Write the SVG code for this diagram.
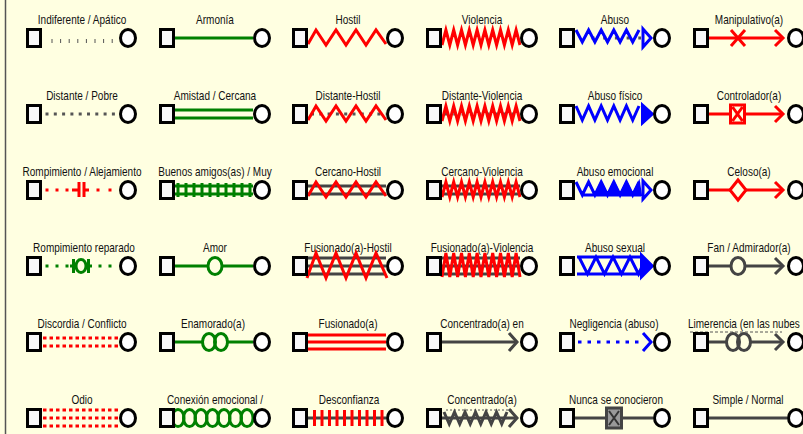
<svg xmlns="http://www.w3.org/2000/svg" xmlns:xlink="http://www.w3.org/1999/xlink" width="803" height="434" viewBox="0 0 803 434">
<style>
text{font-family:"Liberation Sans",Arial,sans-serif;font-size:13px;fill:#111;text-anchor:middle}
.sq{fill:#f8f8f8;stroke:#000;stroke-width:3}
.ci{fill:#fff;stroke:#000;stroke-width:3}
.g{stroke:#008000;stroke-width:3;fill:none}
.r{stroke:#f00;stroke-width:3;fill:none}
.b{stroke:#00f;stroke-width:3;fill:none}
.k{stroke:#444;stroke-width:3;fill:none}
.bg{fill:#ffffe1}
.fb{fill:#00f;stroke:#00f;stroke-width:2}
</style>
<defs>
<rect id="sq" class="sq" x="1.5" y="-8.5" width="13" height="17"/>
<ellipse id="ci" class="ci" rx="7.5" ry="8.5"/>
</defs>
<rect width="803" height="434" fill="#ffffe1"/>
<line x1="5.5" y1="0" x2="5.5" y2="434" stroke="#555" stroke-width="1.5"/>

<g id="labels">
<text transform="translate(82,24) scale(0.77,1)">Indiferente / Apático</text>
<text transform="translate(215,24) scale(0.77,1)">Armonía</text>
<text transform="translate(348,24) scale(0.77,1)">Hostil</text>
<text transform="translate(482,24) scale(0.77,1)">Violencia</text>
<text transform="translate(615,24) scale(0.77,1)">Abuso</text>
<text transform="translate(749,24) scale(0.77,1)">Manipulativo(a)</text>

<text transform="translate(82,100) scale(0.77,1)">Distante / Pobre</text>
<text transform="translate(215,100) scale(0.77,1)">Amistad / Cercana</text>
<text transform="translate(348,100) scale(0.77,1)">Distante-Hostil</text>
<text transform="translate(482,100) scale(0.77,1)">Distante-Violencia</text>
<text transform="translate(615,100) scale(0.77,1)">Abuso físico</text>
<text transform="translate(749,100) scale(0.77,1)">Controlador(a)</text>

<text transform="translate(82,176) scale(0.77,1)">Rompimiento / Alejamiento</text>
<text transform="translate(215,176) scale(0.77,1)">Buenos amigos(as) / Muy</text>
<text transform="translate(348,176) scale(0.77,1)">Cercano-Hostil</text>
<text transform="translate(482,176) scale(0.77,1)">Cercano-Violencia</text>
<text transform="translate(615,176) scale(0.77,1)">Abuso emocional</text>
<text transform="translate(749,176) scale(0.77,1)">Celoso(a)</text>

<text transform="translate(84,252) scale(0.77,1)">Rompimiento reparado</text>
<text transform="translate(215,252) scale(0.77,1)">Amor</text>
<text transform="translate(348,252) scale(0.77,1)">Fusionado(a)-Hostil</text>
<text transform="translate(482,252) scale(0.77,1)">Fusionado(a)-Violencia</text>
<text transform="translate(615,252) scale(0.77,1)">Abuso sexual</text>
<text transform="translate(749,252) scale(0.77,1)">Fan / Admirador(a)</text>

<text transform="translate(82,328) scale(0.77,1)">Discordia / Conflicto</text>
<text transform="translate(213,328) scale(0.77,1)">Enamorado(a)</text>
<text transform="translate(348,328) scale(0.77,1)">Fusionado(a)</text>
<text transform="translate(482,328) scale(0.77,1)">Concentrado(a) en</text>
<text transform="translate(614,328) scale(0.77,1)">Negligencia (abuso)</text>
<text transform="translate(688,328) scale(0.77,1)" style="text-anchor:start">Limerencia (en las nubes</text>

<text transform="translate(82,404) scale(0.77,1)">Odio</text>
<text transform="translate(215,404) scale(0.77,1)">Conexión emocional /</text>
<text transform="translate(349,404) scale(0.77,1)">Desconfianza</text>
<text transform="translate(482,404) scale(0.77,1)">Concentrado(a)</text>
<text transform="translate(616,404) scale(0.77,1)">Nunca se conocieron</text>
<text transform="translate(748,404) scale(0.77,1)">Simple / Normal</text>
</g>

<g id="connectors">
<!-- column 1 -->
<line x1="51.5" y1="41" x2="113" y2="41" stroke="#555" stroke-width="4" stroke-dasharray="1 7.6"/>
<line x1="45.5" y1="114" x2="120" y2="114" stroke="#555" stroke-width="3" stroke-dasharray="3 5.3"/>
<path class="r" d="M45.5,190h3 M55.5,190h3 M65.5,190h3 M72,190h6 M84,190h5 M96.5,190h3 M108.5,190h3"/>
<path class="r" stroke-width="2.5" d="M79,182v15 M84,182v15"/>
<path class="g" d="M45.5,266h3 M55.5,266h3 M65.5,266h3 M70,266h4 M88,266h4 M98.5,266h3 M108.5,266h3"/>
<path class="g" stroke-width="2.5" d="M73.5,259v14 M88.5,259v14"/>
<ellipse class="g bg" cx="81" cy="266" rx="5" ry="6.5"/>
<path class="r" stroke-width="3.5" stroke-dasharray="3.5 3" d="M43,338H120 M43,346H120"/>
<path class="r" stroke-width="3.5" stroke-dasharray="3.5 3" d="M43,410H120 M43,418H120 M43,426H120"/>

<!-- column 2 -->
<line class="g" x1="175" y1="38" x2="253" y2="38"/>
<path class="g" d="M175,110H253 M175,118H253"/>
<path class="g" d="M175,186H253 M175,194H253"/>
<path class="g" stroke-width="2.5" d="M178,183v14 M186,183v14 M194,183v14 M202,183v14 M210,183v14 M218,183v14 M226,183v14 M234,183v14 M242,183v14 M250,183v14"/>
<line class="g" x1="175" y1="266" x2="253" y2="266"/>
<ellipse class="g bg" cx="215" cy="266" rx="7" ry="8.5"/>
<path class="g" d="M175,342H202.5 M227.5,342H253"/>
<ellipse class="g" cx="209" cy="342" rx="6.5" ry="8.5"/>
<ellipse class="g" cx="221" cy="342" rx="6.5" ry="8.5"/>
<g class="g">
<ellipse cx="178" cy="418" rx="6" ry="8.5"/>
<ellipse cx="189.5" cy="418" rx="6" ry="8.5"/>
<ellipse cx="201" cy="418" rx="6" ry="8.5"/>
<ellipse cx="212.5" cy="418" rx="6" ry="8.5"/>
<ellipse cx="224" cy="418" rx="6" ry="8.5"/>
<ellipse cx="235.5" cy="418" rx="6" ry="8.5"/>
<ellipse cx="247" cy="418" rx="6" ry="8.5"/>
</g>

<!-- column 3 -->
<path class="r" d="M308,44 L316,30 L326,45 L336,30 L346,45 L356,30 L366,45 L376,30 L386,44"/>
<line x1="311" y1="114" x2="386" y2="114" stroke="#555" stroke-width="3" stroke-dasharray="3 5.3"/>
<path class="r" d="M308,120 L316,106 L326,121 L336,106 L346,121 L356,106 L366,121 L376,106 L386,120"/>
<path class="k" d="M308,186H386 M308,194H386"/>
<path class="r" d="M308,196 L316,182 L326,197 L336,182 L346,197 L356,182 L366,197 L376,182 L386,196"/>
<path class="k" d="M308,258H386 M308,266H386 M308,274H386"/>
<path class="r" d="M307,278 L316,253 L326,278 L336,253 L346,278 L356,253 L366,278 L376,253 L387,278"/>
<path class="r" d="M308,335H386 M308,342H386 M308,349H386"/>
<line class="k" x1="308" y1="418" x2="386" y2="418"/>
<path class="r" stroke-width="2.5" d="M314.5,410v16 M322,410v16 M329.5,410v16 M337,410v16 M344.5,410v16 M352,410v16 M359.5,410v16 M367,410v16 M374.5,410v16 M382,410v16"/>

<!-- column 4 -->
<path class="r" stroke-width="2.5" d="M442,45 l3.9,-15 3.9,15 3.9,-15 3.9,15 3.9,-15 3.9,15 3.9,-15 3.9,15 3.9,-15 3.9,15 3.9,-15 3.9,15 3.9,-15 3.9,15 3.9,-15 3.9,15 3.9,-15 3.9,15 3.9,-15 3.9,15"/>
<line x1="445" y1="114" x2="520" y2="114" stroke="#555" stroke-width="3" stroke-dasharray="3 5.3"/>
<path class="r" stroke-width="2.5" d="M442,121 l3.9,-15 3.9,15 3.9,-15 3.9,15 3.9,-15 3.9,15 3.9,-15 3.9,15 3.9,-15 3.9,15 3.9,-15 3.9,15 3.9,-15 3.9,15 3.9,-15 3.9,15 3.9,-15 3.9,15 3.9,-15 3.9,15"/>
<path class="k" d="M442,186H520 M442,194H520"/>
<path class="r" stroke-width="2.5" d="M442,197 l3.9,-15 3.9,15 3.9,-15 3.9,15 3.9,-15 3.9,15 3.9,-15 3.9,15 3.9,-15 3.9,15 3.9,-15 3.9,15 3.9,-15 3.9,15 3.9,-15 3.9,15 3.9,-15 3.9,15 3.9,-15 3.9,15"/>
<path class="k" d="M442,258H520 M442,266H520 M442,274H520"/>
<path class="r" stroke-width="2.5" d="M442,277 l3.9,-24 3.9,24 3.9,-24 3.9,24 3.9,-24 3.9,24 3.9,-24 3.9,24 3.9,-24 3.9,24 3.9,-24 3.9,24 3.9,-24 3.9,24 3.9,-24 3.9,24 3.9,-24 3.9,24 3.9,-24 3.9,24"/>
<line class="k" x1="442" y1="342" x2="515" y2="342"/>
<path class="k" d="M509,333 L517,342 L509,351"/>
<line x1="446" y1="410" x2="514" y2="410" stroke="#555" stroke-width="1" stroke-dasharray="2 2"/>
<line class="k" x1="442" y1="418" x2="515" y2="418" stroke-width="2.5"/>
<path class="k" stroke="#555" stroke-width="2.5" d="M444,412 l5.25,12 5.25,-12 5.25,12 5.25,-12 5.25,12 5.25,-12 5.25,12 5.25,-12 5.25,12 5.25,-12 5.25,12 5.25,-12"/>
<path class="k" d="M509,409 L517,418 L509,427"/>

<!-- column 5 -->
<line x1="591.5" y1="38" x2="641" y2="38" stroke="#555" stroke-width="3" stroke-dasharray="3 8.7"/>
<path class="b" d="M576,30 l6.3,12 6.3,-12 6.3,12 6.3,-12 6.3,12 6.3,-12 6.3,12 6.3,-12 6.3,12 6.3,-12"/>
<path class="b bg" d="M643,29 L651,38 L643,47 Z"/>
<path class="b" d="M576,106 l6.3,14 6.3,-14 6.3,14 6.3,-14 6.3,14 6.3,-14 6.3,14 6.3,-14 6.3,14 6.3,-14"/>
<path class="fb" d="M642,104 L653,114 L642,124 Z"/>
<path class="b" d="M576,182 L582.3,195 L588.6,182 L594.9,195 L601.2,182 L607.5,195 L613.8,182 L620.1,195 L626.4,182 L632.7,195 L639,182 M582.3,195H641"/>
<path class="fb" d="M594.9,195 L601.2,182 L607.5,195 Z M607.5,195 L613.8,182 L620.1,195 Z M620.1,195 L626.4,182 L632.7,195 Z M632.7,195 L639,182 L641,195 Z"/>
<path class="b bg" d="M643,181 L651,190 L643,199 Z"/>
<path class="b" stroke-width="3.5" d="M577,257H642 M577,274H642 M579,257 L587.5,274 L596,257 L604.5,274 L613,257 L621.5,274 L630,257 L638.5,274 L644,262"/>
<path class="fb" d="M641,254 L653,266 L641,278 Z"/>
<line class="b" x1="578" y1="342" x2="640" y2="342" stroke-width="3.5" stroke-dasharray="3.5 6"/>
<path class="b" d="M643,333 L651,342 L643,351"/>
<line class="k" x1="575" y1="418" x2="653" y2="418"/>
<rect x="606.5" y="408" width="15" height="20" fill="#999" stroke="#444" stroke-width="3"/>
<path d="M609,411 L619,425 M619,411 L609,425" stroke="#333" stroke-width="2" fill="none"/>

<!-- column 6 -->
<line class="r" x1="709" y1="38" x2="783" y2="38"/>
<path class="r" d="M731,30 L745,46 M745,30 L731,46"/>
<path class="r" d="M775,30 L783,38 L775,46"/>
<line class="r" x1="709" y1="114" x2="783" y2="114"/>
<rect class="r bg" x="730.5" y="105" width="14" height="18"/>
<path class="r" stroke-width="2.5" d="M732.5,107 L742.5,121 M742.5,107 L732.5,121"/>
<path class="r" d="M775,106 L783,114 L775,122"/>
<line class="r" x1="709" y1="190" x2="783" y2="190"/>
<path class="r bg" d="M730,190 L738,180 L746,190 L738,200 Z"/>
<path class="r" d="M775,182 L783,190 L775,198"/>
<line class="k" x1="709" y1="266" x2="783" y2="266"/>
<ellipse class="k bg" cx="738" cy="266" rx="7" ry="8.5"/>
<path class="k" d="M775,258 L783,266 L775,274"/>
<line x1="690" y1="332" x2="782" y2="332" stroke="#555" stroke-width="1" stroke-dasharray="3 2"/>
<path class="k" d="M709,342H726.5 M750.5,342H783"/>
<ellipse class="k" cx="733" cy="342" rx="6.5" ry="8.5"/>
<ellipse class="k" cx="744" cy="342" rx="6.5" ry="8.5"/>
<path class="k" d="M775,334 L783,342 L775,350"/>
<line class="k" x1="709" y1="418" x2="787" y2="418"/>
</g>

<g id="nodes">
<g id="sq-r1c1"><use href="#sq" x="26" y="38"/></g><g id="ci-r1c1"><use href="#ci" x="128" y="38"/></g>
<g id="sq-r1c2"><use href="#sq" x="159" y="38"/></g><g id="ci-r1c2"><use href="#ci" x="262" y="38"/></g>
<g id="sq-r1c3"><use href="#sq" x="292" y="38"/></g><g id="ci-r1c3"><use href="#ci" x="395" y="38"/></g>
<g id="sq-r1c4"><use href="#sq" x="426" y="38"/></g><g id="ci-r1c4"><use href="#ci" x="529" y="38"/></g>
<g id="sq-r1c5"><use href="#sq" x="559" y="38"/></g><g id="ci-r1c5"><use href="#ci" x="662" y="38"/></g>
<g id="sq-r1c6"><use href="#sq" x="693" y="38"/></g><g id="ci-r1c6"><use href="#ci" x="796" y="38"/></g>

<g id="sq-r2c1"><use href="#sq" x="26" y="114"/></g><g id="ci-r2c1"><use href="#ci" x="128" y="114"/></g>
<g id="sq-r2c2"><use href="#sq" x="159" y="114"/></g><g id="ci-r2c2"><use href="#ci" x="262" y="114"/></g>
<g id="sq-r2c3"><use href="#sq" x="292" y="114"/></g><g id="ci-r2c3"><use href="#ci" x="395" y="114"/></g>
<g id="sq-r2c4"><use href="#sq" x="426" y="114"/></g><g id="ci-r2c4"><use href="#ci" x="529" y="114"/></g>
<g id="sq-r2c5"><use href="#sq" x="559" y="114"/></g><g id="ci-r2c5"><use href="#ci" x="662" y="114"/></g>
<g id="sq-r2c6"><use href="#sq" x="693" y="114"/></g><g id="ci-r2c6"><use href="#ci" x="796" y="114"/></g>

<g id="sq-r3c1"><use href="#sq" x="26" y="190"/></g><g id="ci-r3c1"><use href="#ci" x="128" y="190"/></g>
<g id="sq-r3c2"><use href="#sq" x="159" y="190"/></g><g id="ci-r3c2"><use href="#ci" x="262" y="190"/></g>
<g id="sq-r3c3"><use href="#sq" x="292" y="190"/></g><g id="ci-r3c3"><use href="#ci" x="395" y="190"/></g>
<g id="sq-r3c4"><use href="#sq" x="426" y="190"/></g><g id="ci-r3c4"><use href="#ci" x="529" y="190"/></g>
<g id="sq-r3c5"><use href="#sq" x="559" y="190"/></g><g id="ci-r3c5"><use href="#ci" x="662" y="190"/></g>
<g id="sq-r3c6"><use href="#sq" x="693" y="190"/></g><g id="ci-r3c6"><use href="#ci" x="796" y="190"/></g>

<g id="sq-r4c1"><use href="#sq" x="26" y="266"/></g><g id="ci-r4c1"><use href="#ci" x="128" y="266"/></g>
<g id="sq-r4c2"><use href="#sq" x="159" y="266"/></g><g id="ci-r4c2"><use href="#ci" x="262" y="266"/></g>
<g id="sq-r4c3"><use href="#sq" x="292" y="266"/></g><g id="ci-r4c3"><use href="#ci" x="395" y="266"/></g>
<g id="sq-r4c4"><use href="#sq" x="426" y="266"/></g><g id="ci-r4c4"><use href="#ci" x="529" y="266"/></g>
<g id="sq-r4c5"><use href="#sq" x="559" y="266"/></g><g id="ci-r4c5"><use href="#ci" x="662" y="266"/></g>
<g id="sq-r4c6"><use href="#sq" x="693" y="266"/></g><g id="ci-r4c6"><use href="#ci" x="796" y="266"/></g>

<g id="sq-r5c1"><use href="#sq" x="26" y="342"/></g><g id="ci-r5c1"><use href="#ci" x="128" y="342"/></g>
<g id="sq-r5c2"><use href="#sq" x="159" y="342"/></g><g id="ci-r5c2"><use href="#ci" x="262" y="342"/></g>
<g id="sq-r5c3"><use href="#sq" x="292" y="342"/></g><g id="ci-r5c3"><use href="#ci" x="395" y="342"/></g>
<g id="sq-r5c4"><use href="#sq" x="426" y="342"/></g><g id="ci-r5c4"><use href="#ci" x="529" y="342"/></g>
<g id="sq-r5c5"><use href="#sq" x="559" y="342"/></g><g id="ci-r5c5"><use href="#ci" x="662" y="342"/></g>
<g id="sq-r5c6"><use href="#sq" x="693" y="342"/></g><g id="ci-r5c6"><use href="#ci" x="796" y="342"/></g>

<g id="sq-r6c1"><use href="#sq" x="26" y="418"/></g><g id="ci-r6c1"><use href="#ci" x="128" y="418"/></g>
<g id="sq-r6c2"><use href="#sq" x="159" y="418"/></g><g id="ci-r6c2"><use href="#ci" x="262" y="418"/></g>
<g id="sq-r6c3"><use href="#sq" x="292" y="418"/></g><g id="ci-r6c3"><use href="#ci" x="395" y="418"/></g>
<g id="sq-r6c4"><use href="#sq" x="426" y="418"/></g><g id="ci-r6c4"><use href="#ci" x="529" y="418"/></g>
<g id="sq-r6c5"><use href="#sq" x="559" y="418"/></g><g id="ci-r6c5"><use href="#ci" x="662" y="418"/></g>
<g id="sq-r6c6"><use href="#sq" x="693" y="418"/></g><g id="ci-r6c6"><use href="#ci" x="796" y="418"/></g>
</g>
</svg>
